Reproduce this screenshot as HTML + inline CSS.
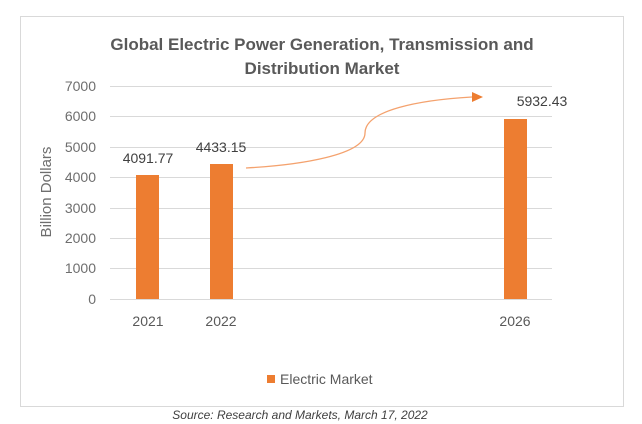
<!DOCTYPE html>
<html><head><style>body{margin:0;background:#fff}svg{display:block}</style></head><body>
<svg width="642" height="424" xmlns="http://www.w3.org/2000/svg" font-family="Liberation Sans, sans-serif">
<rect x="20.5" y="16.5" width="603" height="390" fill="#fff" stroke="#d9d9d9"/>
<text x="322" y="50" text-anchor="middle" font-size="17" font-weight="bold" fill="#595959">Global Electric Power Generation, Transmission and</text>
<text x="322" y="74" text-anchor="middle" font-size="17" font-weight="bold" fill="#595959">Distribution Market</text>
<g stroke="#d9d9d9" stroke-width="1">
<line x1="110" x2="552" y1="86.5" y2="86.5"/><line x1="110" x2="552" y1="116.5" y2="116.5"/>
<line x1="110" x2="552" y1="147.5" y2="147.5"/><line x1="110" x2="552" y1="177.5" y2="177.5"/>
<line x1="110" x2="552" y1="208.5" y2="208.5"/><line x1="110" x2="552" y1="238.5" y2="238.5"/>
<line x1="110" x2="552" y1="268.5" y2="268.5"/><line x1="110" x2="552" y1="299.5" y2="299.5"/>
</g>
<g font-size="14" fill="#6e6e6e" text-anchor="end">
<text x="96" y="91">7000</text><text x="96" y="121">6000</text><text x="96" y="152">5000</text>
<text x="96" y="182">4000</text><text x="96" y="213">3000</text><text x="96" y="243">2000</text>
<text x="96" y="273">1000</text><text x="96" y="304">0</text>
</g>
<text transform="translate(51,192) rotate(-90)" text-anchor="middle" font-size="15" fill="#6e6e6e">Billion Dollars</text>
<g fill="#ed7d31">
<rect x="136" y="175" width="23" height="124"/>
<rect x="210" y="164" width="23" height="135"/>
<rect x="504" y="119" width="23" height="180"/>
</g>
<g font-size="14" fill="#404040" text-anchor="middle">
<text x="148" y="163">4091.77</text><text x="221" y="152">4433.15</text><text x="542" y="106">5932.43</text>
</g>
<g font-size="14" fill="#595959" text-anchor="middle">
<text x="148" y="326">2021</text><text x="221" y="326">2022</text><text x="515" y="326">2026</text>
</g>
<path d="M246 168 C 300 165, 365 155, 365 133 C 365 110, 420 100, 472 97" fill="none" stroke="#f4a26e" stroke-width="1.3"/>
<polygon points="472,92 483,97 472,102" fill="#ed7d31"/>
<rect x="267" y="375" width="8" height="8" fill="#ed7d31"/>
<text x="280" y="384" font-size="14" fill="#595959">Electric Market</text>
<text x="300" y="419" text-anchor="middle" font-size="12" font-style="italic" fill="#404040">Source: Research and Markets, March 17, 2022</text>
</svg>
</body></html>
